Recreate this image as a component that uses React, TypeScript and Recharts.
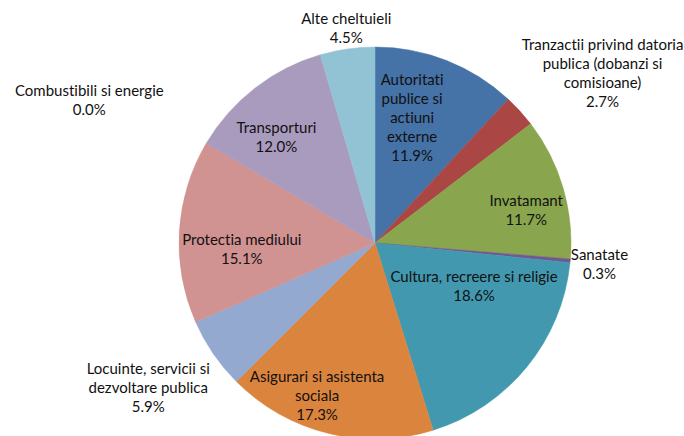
import { PieChart, Pie, Cell } from "recharts";

const categories = [
  "Autoritati publice si actiuni externe",
  "Tranzactii privind datoria publica (dobanzi si comisioane)",
  "Invatamant",
  "Sanatate",
  "Cultura, recreere si religie",
  "Asigurari si asistenta sociala",
  "Locuinte, servicii si dezvoltare publica",
  "Protectia mediului",
  "Combustibili si energie",
  "Transporturi",
  "Alte cheltuieli",
];

const shares = [11.9, 2.7, 11.7, 0.3, 18.6, 17.3, 5.9, 15.1, 0.0, 12.0, 4.5];

// how each label is broken into lines
const labelLines = [
  ["Autoritati", "publice si", "actiuni", "externe"],
  ["Tranzactii privind datoria", "publica (dobanzi si", "comisioane)"],
  ["Invatamant"],
  ["Sanatate"],
  ["Cultura, recreere si religie"],
  ["Asigurari si asistenta", "sociala"],
  ["Locuinte, servicii si", "dezvoltare publica"],
  ["Protectia mediului"],
  ["Combustibili si energie"],
  ["Transporturi"],
  ["Alte cheltuieli"],
];

const COLORS = [
  "#4572A7",
  "#AA4643",
  "#89A54E",
  "#71588F",
  "#4198AF",
  "#DB843D",
  "#93A9CF",
  "#D19392",
  "#B9CD96",
  "#A99BBD",
  "#92C3D4",
];

// label placement: radius as a fraction of the pie radius, angle nudge (deg, clockwise)
const LABEL_PLACE = [
  { r: 0.67, da: -5 },
  { r: 1.45, da: 5.5 },
  { r: 0.79, da: 4 },
  { r: 1.15, da: 0 },
  { r: 0.55, da: -16 },
  { r: 0.83, da: 7 },
  { r: 1.37, da: 2 },
  { r: 0.68, da: -5.6 },
  { r: 1.63, da: -4 },
  { r: 0.74, da: -5 },
  { r: 1.11, da: 0.5 },
];

const data = categories.map((name, i) => ({ name, value: shares[i] }));

const RAD = Math.PI / 180;
const LINE_H = 19;

function renderLabel(props: any) {
  const { cx, cy, midAngle, outerRadius, index } = props;
  const place = LABEL_PLACE[index];
  const angle = midAngle - place.da;
  const r = outerRadius * place.r;
  const x = cx + r * Math.cos(-angle * RAD);
  const y = cy + r * Math.sin(-angle * RAD);
  const lines = [...labelLines[index], shares[index].toFixed(1) + "%"];
  const top = y - ((lines.length - 1) * LINE_H) / 2;
  return (
    <text
      key={"lbl" + index}
      x={x}
      y={top}
      textAnchor="middle"
      dominantBaseline="central"
      fill="#111"
      fontSize={15}
      fontFamily="Lato, 'Open Sans', sans-serif"
      style={{ fontVariantLigatures: "none" }}
    >
      {lines.map((line, j) => (
        <tspan key={j} x={x} y={top + j * LINE_H}>
          {line}
        </tspan>
      ))}
    </text>
  );
}

export default function App() {
  return (
    <div style={{ position: "absolute", left: 0, top: 0, background: "#fff" }}>
      <PieChart width={684} height={436} margin={{ top: 0, right: 0, bottom: 0, left: 0 }}>
        <Pie
          data={data}
          dataKey="value"
          nameKey="name"
          cx={375}
          cy={243}
          outerRadius={196}
          startAngle={90}
          endAngle={-270}
          label={renderLabel}
          labelLine={false}
          isAnimationActive={false}
        >
          {data.map((d, i) => (
            <Cell key={d.name} fill={COLORS[i]} stroke={COLORS[i]} strokeWidth={0.5} />
          ))}
        </Pie>
      </PieChart>
    </div>
  );
}
